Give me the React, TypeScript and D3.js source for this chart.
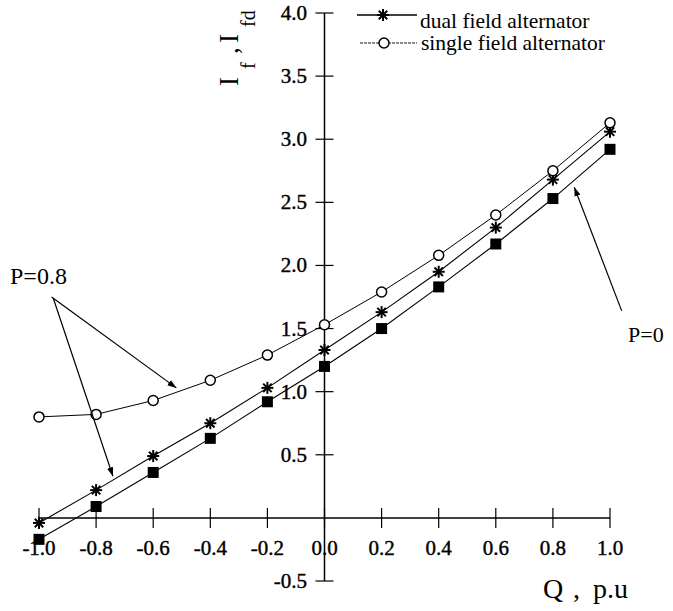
import React from "react";
import * as d3 from "d3";

// Q (p.u) and field currents
const qValues = [-1.0, -0.8, -0.6, -0.4, -0.2, 0.0, 0.2, 0.4, 0.6, 0.8, 1.0];
const singleField = [0.8, 0.82, 0.93, 1.09, 1.29, 1.53, 1.79, 2.08, 2.4, 2.75, 3.13];
const dualField = [-0.04, 0.22, 0.49, 0.75, 1.03, 1.33, 1.63, 1.95, 2.3, 2.68, 3.06];
const dualFieldP0 = [-0.17, 0.09, 0.36, 0.63, 0.92, 1.2, 1.5, 1.83, 2.17, 2.53, 2.92];

const xTicks = [-1.0, -0.8, -0.6, -0.4, -0.2, 0.0, 0.2, 0.4, 0.6, 0.8, 1.0];
const yTicks = [-0.5, 0.5, 1.0, 1.5, 2.0, 2.5, 3.0, 3.5, 4.0];

const legendLabels = ["dual field alternator", "single field alternator"];

const W = 673;
const H = 611;
const FONT = "'Liberation Serif', 'Times New Roman', serif";

const x = d3.scaleLinear().domain([-1, 1]).range([39, 610]);
const y = d3.scaleLinear().domain([-0.5, 4]).range([581, 13]);

const line = d3
  .line<number>()
  .x((_, i) => x(qValues[i]))
  .y((d) => y(d));

const Star = ({ cx, cy, r = 6 }: { cx: number; cy: number; r?: number }) => (
  <g transform={`translate(${cx},${cy})`} stroke="#000" strokeWidth={2}>
    {[0, 45, 90, 135].map((a) => {
      const rad = (a * Math.PI) / 180;
      return (
        <line
          key={a}
          x1={-r * Math.cos(rad)}
          y1={-r * Math.sin(rad)}
          x2={r * Math.cos(rad)}
          y2={r * Math.sin(rad)}
        />
      );
    })}
  </g>
);

const App = () => {
  const x0 = x(0);
  const y0 = y(0);

  return (
    <svg
      width={W}
      height={H}
      style={{ position: "absolute", left: 0, top: 0, background: "#fff" }}
      fontFamily={FONT}
    >
      <defs>
        <marker
          id="arrowHead"
          viewBox="0 0 10 10"
          refX="10"
          refY="5"
          markerWidth="9"
          markerHeight="9"
          markerUnits="userSpaceOnUse"
          orient="auto"
        >
          <path d="M0,1.5 L10,5 L0,8.5 Z" fill="#000" />
        </marker>
      </defs>

      {/* axes */}
      <line x1={x(-1)} x2={x(1)} y1={y0} y2={y0} stroke="#000" strokeWidth={1.5} />
      <line x1={x0} x2={x0} y1={y(-0.5)} y2={y(4)} stroke="#000" strokeWidth={1.5} />

      {xTicks.map((t) => (
        <g key={"xt" + t}>
          <line x1={x(t)} x2={x(t)} y1={y0 - 10} y2={y0 + 10} stroke="#000" strokeWidth={1.2} />
          <text x={x(t)} y={555} textAnchor="middle" fontSize={21} stroke="#000" strokeWidth={0.4}>
            {t.toFixed(1)}
          </text>
        </g>
      ))}

      {yTicks.map((t) => (
        <g key={"yt" + t}>
          <line x1={x0 - 9} x2={x0 + 9} y1={y(t)} y2={y(t)} stroke="#000" strokeWidth={1.2} />
          <text x={307} y={y(t) + 7} textAnchor="end" fontSize={21} stroke="#000" strokeWidth={0.4}>
            {t.toFixed(1)}
          </text>
        </g>
      ))}

      {/* axis titles */}
      <text transform="translate(238,86) rotate(-90)" fontSize={27}>
        <tspan x={0} y={0}>I</tspan>
        <tspan x={17} y={17} fontSize={20}>f</tspan>
        <tspan x={32} y={0}>,</tspan>
        <tspan x={43} y={0}>I</tspan>
        <tspan x={59} y={17} fontSize={20}>fd</tspan>
      </text>
      <text y={598} fontSize={28}>
        <tspan x={543}>Q</tspan>
        <tspan x={573}>,</tspan>
        <tspan x={593}>p.u</tspan>
      </text>

      {/* curves */}
      <path d={line(singleField) ?? ""} fill="none" stroke="#000" strokeWidth={1} />
      <path d={line(dualField) ?? ""} fill="none" stroke="#000" strokeWidth={1.1} />
      <path d={line(dualFieldP0) ?? ""} fill="none" stroke="#000" strokeWidth={1.1} />

      {dualFieldP0.map((v, i) => (
        <rect key={"sq" + i} x={x(qValues[i]) - 5.5} y={y(v) - 5.5} width={11} height={11} fill="#000" />
      ))}
      {dualField.map((v, i) => (
        <Star key={"st" + i} cx={x(qValues[i])} cy={y(v)} />
      ))}
      {singleField.map((v, i) => (
        <circle key={"ci" + i} cx={x(qValues[i])} cy={y(v)} r={5} fill="#fff" stroke="#000" strokeWidth={1.5} />
      ))}

      {/* legend */}
      <line x1={357} x2={417} y1={15} y2={15} stroke="#000" strokeWidth={1.5} />
      <Star cx={383} cy={15} />
      <text x={420} y={28} fontSize={21.5}>{legendLabels[0]}</text>
      <line x1={360} x2={417} y1={43} y2={43} stroke="#000" strokeWidth={0.9} strokeDasharray="3,1" />
      <circle cx={384} cy={43} r={5} fill="#fff" stroke="#000" strokeWidth={1.5} />
      <text x={421} y={50} fontSize={21.5}>{legendLabels[1]}</text>

      {/* annotations */}
      <text x={10} y={284} fontSize={24}>P=0.8</text>
      <line x1={x(-0.956)} y1={y(1.75)} x2={x(-0.519)} y2={y(1.03)} stroke="#000" strokeWidth={1.2} markerEnd="url(#arrowHead)" />
      <line x1={x(-0.95)} y1={y(1.74)} x2={x(-0.741)} y2={y(0.33)} stroke="#000" strokeWidth={1.2} markerEnd="url(#arrowHead)" />
      <text x={628} y={342} fontSize={22}>P=0</text>
      <line x1={x(1.041)} y1={y(1.64)} x2={x(0.875)} y2={y(2.62)} stroke="#000" strokeWidth={1.2} markerEnd="url(#arrowHead)" />
    </svg>
  );
};

export default App;
